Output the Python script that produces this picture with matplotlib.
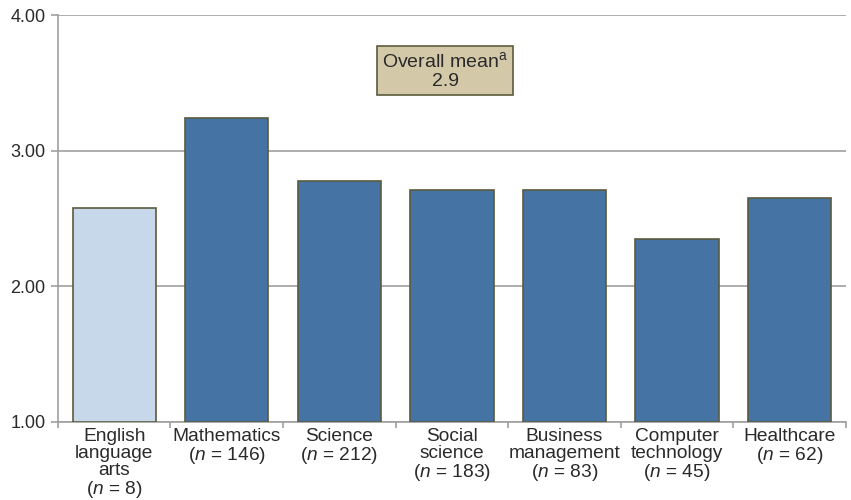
import numpy as np
import matplotlib
matplotlib.use("Agg")
import matplotlib.pyplot as plt

plt.rcParams['font.family'] = ['Liberation Sans', 'DejaVu Sans']
plt.rcParams['mathtext.fontset'] = 'custom'
plt.rcParams['mathtext.rm'] = 'Liberation Sans'
plt.rcParams['mathtext.it'] = 'Liberation Sans:italic'

# ---- data
subjects = ["English\nlanguage\narts", "Mathematics", "Science", "Social\nscience",
            "Business\nmanagement", "Computer\ntechnology", "Healthcare"]
counts = [8, 146, 212, 183, 83, 45, 62]
means = [2.58, 3.24, 2.78, 2.71, 2.71, 2.35, 2.65]
overall_mean = 2.9
yticks = [1.0, 2.0, 3.0, 4.0]

dark = "#4573a4"
light = "#c6d8e9"
colors = [light] + [dark] * (len(means) - 1)

fig = plt.figure(figsize=(8.51, 5.0), dpi=100)
ax = fig.add_axes([0.068, 0.156, 0.926, 0.814])

x = np.arange(len(means))
ax.bar(x, np.array(means) - 1.0, bottom=1.0, width=0.74, color=colors,
       edgecolor="#5b5a3e", linewidth=1.2, zorder=3)

ax.set_ylim(1.0, 4.0)
ax.set_xlim(-0.5, len(means) - 0.5)
ax.set_yticks(yticks)
ax.set_yticklabels(["{:.2f}".format(v) for v in yticks], fontsize=13, color="#2a2a2a")
ax.yaxis.grid(True, color="#a0a0a0", linewidth=1.2, zorder=0)

labels = [s + "\n($\\mathit{n}$ = " + str(c) + ")" for s, c in zip(subjects, counts)]
ax.set_xticks(x)
ax.set_xticklabels(labels, fontsize=13.8, color="#2a2a2a", linespacing=1.0)
ax.set_xticks(np.arange(len(means) + 1) - 0.5, minor=True)
ax.tick_params(axis="x", which="major", length=0, pad=4)
ax.tick_params(axis="x", which="minor", length=4, color="#a0a0a0", width=1.2)
ax.tick_params(axis="y", length=5, color="#a0a0a0", width=1.2, pad=4)

for side in ["top", "right"]:
    ax.spines[side].set_visible(False)
for side in ["left", "bottom"]:
    ax.spines[side].set_color("#a0a0a0")
    ax.spines[side].set_linewidth(1.2)

ax.text(2.94, 3.59, "Overall mean$^{\\mathrm{a}}$\n" + "{:.1f}".format(overall_mean),
        ha="center", va="center", fontsize=14, color="#2a2a2a", linespacing=1.15,
        bbox=dict(boxstyle="square,pad=0.25", facecolor="#d3c9a9", edgecolor="#5b5a3e",
                  linewidth=1.2), zorder=5)

plt.savefig("out.png", dpi=100)
